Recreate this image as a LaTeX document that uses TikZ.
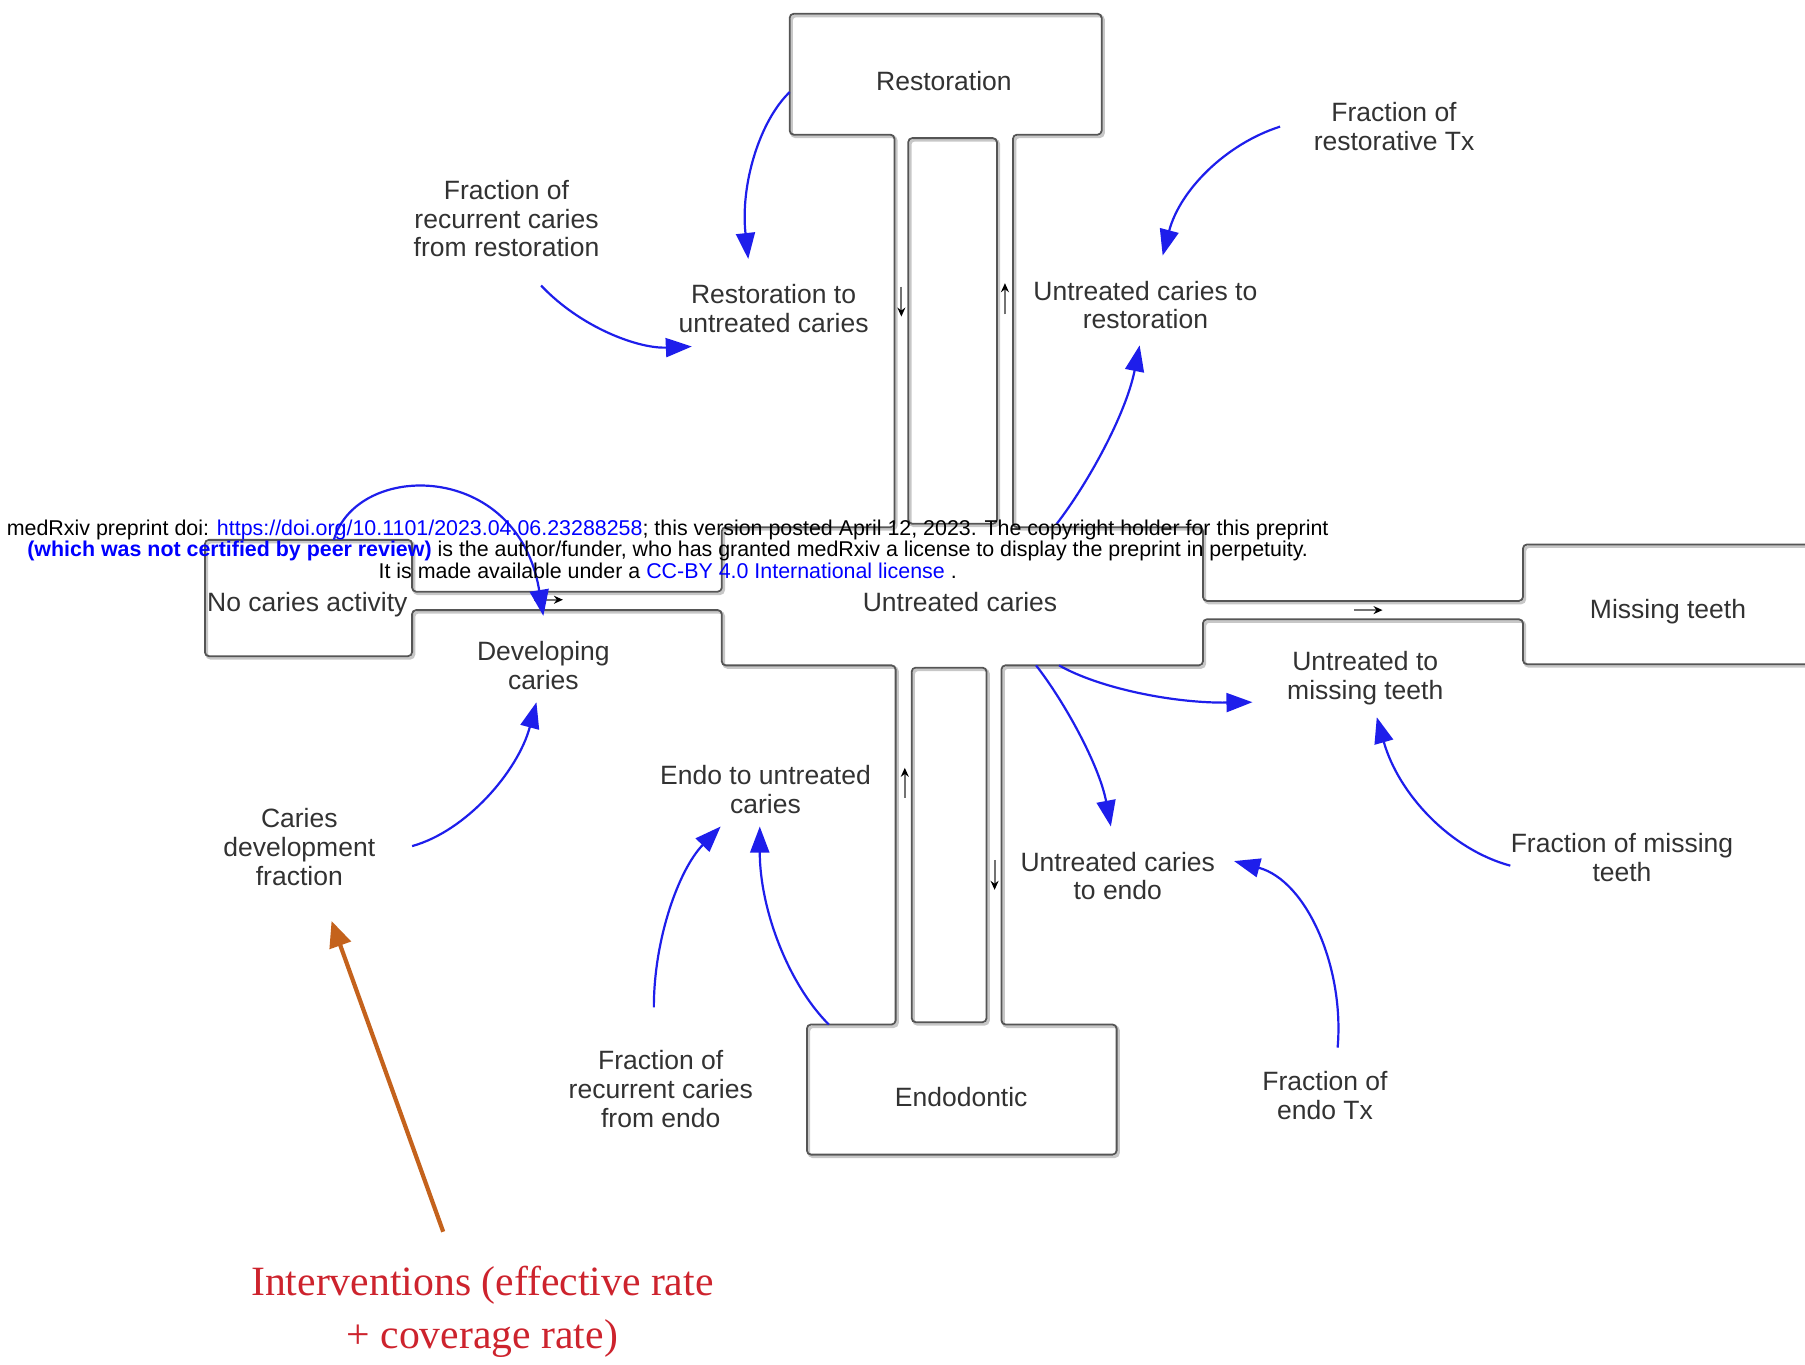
\documentclass[tikz,border=0pt]{standalone}
\usepackage{fontspec}
\setmainfont{Liberation Sans}
\newfontfamily\intfont{Liberation Serif}
\usetikzlibrary{arrows.meta}
\definecolor{linkblue}{RGB}{30,30,235}
\definecolor{wmblue}{RGB}{0,0,255}
\definecolor{orangearr}{RGB}{196,98,28}
\definecolor{intred}{RGB}{205,35,45}
\definecolor{stockline}{RGB}{85,85,85}
\definecolor{labelgray}{RGB}{50,50,50}
\newcommand\stockoutline[1]{%
  \draw[#1] (820,12) -- (957,12) -- (957,117) -- (880,117) -- (880,458) -- (1045,458)
    -- (1045,522) -- (1323,522) -- (1323,473) -- (1600,473) -- (1600,577) -- (1323,577)
    -- (1323,538) -- (1045,538) -- (1045,578) -- (870,578) -- (870,890) -- (970,890)
    -- (970,1003) -- (701,1003) -- (701,890) -- (778,890) -- (778,578) -- (627,578)
    -- (627,530) -- (358,530) -- (358,570) -- (178,570) -- (178,469) -- (358,469)
    -- (358,514) -- (627,514) -- (627,458) -- (777,458) -- (777,117) -- (686,117)
    -- (686,12) -- cycle;
  \draw[#1] (789,120) rectangle (866,455);
  \draw[#1] (792,580) rectangle (857,888);
}
\begin{document}
\begin{tikzpicture}[x=1.1512pt,y=-1.1512pt,
  lbl/.style={align=center, inner sep=0pt, text=labelgray, font=\fontsize{26.5}{28.8}\selectfont},
  stockpath/.style={draw=stockline, line width=1.8pt, rounded corners=4pt},
  shadowpath/.style={draw=black!22, line width=2.8pt, rounded corners=4pt},
  link/.style={draw=linkblue, line width=2.2pt, -{Triangle[length=26pt,width=19pt]}},
  flowmark/.style={draw=black!55, line width=1.8pt, -{Stealth[length=9pt,width=8pt,color=black]}},
  wm/.style={align=center, inner sep=0pt, text=black, font=\fontsize{21.4}{21.3}\selectfont},
]
\useasboundingbox (0,0) rectangle (1568,1185);
\clip (0,0) rectangle (1568,1185);

% stocks and pipes
\begin{scope}[shift={(1.6,1.8)}]
  \stockoutline{shadowpath}
\end{scope}
\stockoutline{stockpath}

% flow direction markers
\coordinate (m1a) at (783,249); \coordinate (m1b) at (783,275);
\coordinate (m2a) at (873,273); \coordinate (m2b) at (873,246);
\coordinate (m3a) at (786,693); \coordinate (m3b) at (786,667);
\coordinate (m4a) at (864,747); \coordinate (m4b) at (864,773);
\coordinate (m5a) at (1176,530); \coordinate (m5b) at (1201,530);
\coordinate (m6a) at (464,521); \coordinate (m6b) at (489,521);
\draw[flowmark] (m1a) -- (m1b);
\draw[flowmark] (m2a) -- (m2b);
\draw[flowmark] (m3a) -- (m3b);
\draw[flowmark] (m4a) -- (m4b);
\draw[flowmark] (m5a) -- (m5b);
\draw[flowmark] (m6a) -- (m6b);

% labels
\node[lbl] (rest) at (820,70) {Restoration};
\node[lbl] (frcr) at (440,190) {Fraction of\\recurrent caries\\from restoration};
\node[lbl] (rtu) at (672,268) {Restoration to\\untreated caries};
\node[lbl] (frtx) at (1211,110) {Fraction of\\restorative Tx};
\node[lbl] (utr) at (995,265) {Untreated caries to\\restoration};
\node[lbl] (nca) at (267,525) {No caries activity};
\node[lbl] (dev) at (472,578) {Developing\\caries};
\node[lbl] (unt) at (834,523) {Untreated caries};
\node[lbl] (miss) at (1449,531) {Missing teeth};
\node[lbl] (utm) at (1186,589) {Untreated to\\missing teeth};
\node[lbl] (cdf) at (260,736) {Caries\\development\\fraction};
\node[lbl] (etu) at (665,686) {Endo to untreated\\caries};
\node[lbl] (ute) at (971,761) {Untreated caries\\to endo};
\node[lbl] (fmt) at (1409,745) {Fraction of missing\\teeth};
\node[lbl] (frce) at (574,946) {Fraction of\\recurrent caries\\from endo};
\node[lbl] (endo) at (835,953) {Endodontic};
\node[lbl] (fetx) at (1151,952) {Fraction of\\endo Tx};
\node[align=center, inner sep=0pt, text=intred, font=\intfont\fontsize{41.7}{53}\selectfont] (intv) at (419,1140) {Interventions (effective rate\\+ coverage rate)};

% connector end points
\coordinate (a1s) at (686,80);   \coordinate (a1e) at (650,225);
\coordinate (a2s) at (470,248);  \coordinate (a2e) at (601,301);
\coordinate (a3s) at (1112,110); \coordinate (a3e) at (1010,222);
\coordinate (a4s) at (918,455);  \coordinate (a4e) at (990,300);
\coordinate (a5s) at (290,469);  \coordinate (a5e) at (472,535);
\coordinate (a6s) at (358,735);  \coordinate (a6e) at (466,610);
\coordinate (a7s) at (920,578);  \coordinate (a7e) at (1088,610);
\coordinate (a8s) at (900,578);  \coordinate (a8e) at (965,718);
\coordinate (a9s) at (1312,752); \coordinate (a9e) at (1196,623);
\coordinate (a10s) at (1162,910); \coordinate (a10e) at (1072,748);
\coordinate (a11s) at (568,875); \coordinate (a11e) at (626,718);
\coordinate (a12s) at (720,890); \coordinate (a12e) at (660,718);
\coordinate (a13s) at (385,1070); \coordinate (a13e) at (288,800);

\draw[link] (a1s) .. controls (660,105) and (643,160) .. (a1e);
\draw[link] (a2s) .. controls (505,285) and (555,303) .. (a2e);
\draw[link] (a3s) .. controls (1065,125) and (1025,165) .. (a3e);
\draw[link] (a4s) .. controls (945,420) and (978,360) .. (a4e);
\draw[link] (a5s) .. controls (310,400) and (450,400) .. (a5e);
\draw[link] (a6s) .. controls (405,722) and (450,670) .. (a6e);
\draw[link] (a7s) .. controls (955,598) and (1020,611) .. (a7e);
\draw[link] (a8s) .. controls (925,610) and (955,665) .. (a8e);
\draw[link] (a9s) .. controls (1260,738) and (1215,690) .. (a9e);
\draw[link] (a10s) .. controls (1168,840) and (1135,765) .. (a10e);
\draw[link] (a11s) .. controls (568,815) and (590,755) .. (a11e);
\draw[link] (a12s) .. controls (685,855) and (660,790) .. (a12e);
\draw[draw=orangearr, line width=4.2pt, -{Triangle[length=26pt,width=22pt]}] (a13s) -- (a13e);

% watermark
\node[wm] (wmark) at (580,477) {medRxiv preprint doi: \textcolor{wmblue}{https://doi.org/10.1101/2023.04.06.23288258}; this version posted April 12, 2023. The copyright holder for this preprint\\
\textcolor{wmblue}{\bfseries (which was not certified by peer review)} is the author/funder, who has granted medRxiv a license to display the preprint in perpetuity.\\
It is made available under a \textcolor{wmblue}{CC-BY 4.0 International license} .};
\end{tikzpicture}
\end{document}
